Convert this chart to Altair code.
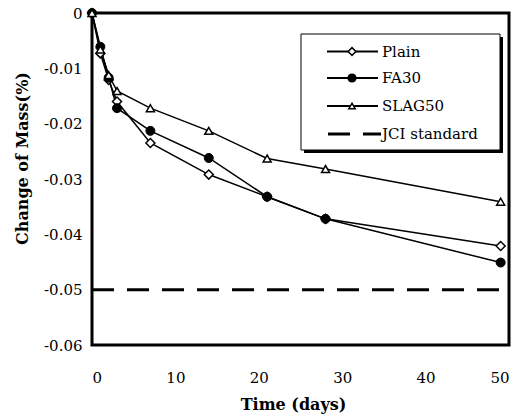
import altair as alt
import pandas as pd

# ---- data ----
days = [0, 1, 2, 3, 7, 14, 21, 28, 49]
plain = [0, -0.0073, -0.0121, -0.0160, -0.0235, -0.0292, -0.0332, -0.0372, -0.0421]
fa30 = [0, -0.0061, -0.0117, -0.0172, -0.0213, -0.0262, -0.0332, -0.0372, -0.0451]
slag50 = [0, -0.0066, -0.0112, -0.0141, -0.0172, -0.0213, -0.0263, -0.0282, -0.0341]
series_names = ["Plain", "FA30", "SLAG50", "JCI standard"]
jci_days = [0, 49]
jci_value = [-0.05, -0.05]
x_ticks = [0, 10, 20, 30, 40, 50]
y_ticks = [0, -0.01, -0.02, -0.03, -0.04, -0.05, -0.06]

rows = []
for name, vals in zip(series_names[:3], [plain, fa30, slag50]):
    for d, v in zip(days, vals):
        rows.append({"day": d, "value": v, "series": name})
df = pd.DataFrame(rows)
jci = pd.DataFrame({"day": jci_days, "value": jci_value, "series": "JCI standard"})
legend_df = pd.DataFrame({"label": series_names})

FONT = "DejaVu Serif"

x_enc = alt.X(
    "day:Q",
    scale=alt.Scale(domain=[0, 50], nice=False),
    axis=alt.Axis(
        values=x_ticks, format="d", title="Time (days)",
        labelPadding=25, titleX=201, titleY=59, titleBaseline="middle",
        titleAnchor="start", titleAlign="center",
    ),
)
y_enc = alt.Y(
    "value:Q",
    scale=alt.Scale(domain=[-0.06, 0], nice=False, zero=False),
    axis=alt.Axis(
        values=y_ticks,
        labelExpr="datum.value == 0 ? '0' : replace(format(datum.value, '.2f'), '\u2212', '-')",
        title="Change of Mass(%)", labelPadding=10,
        titleX=-70, titleY=145, titleBaseline="middle", titleAlign="center",
        titleAngle=-90, titleAnchor="start",
    ),
)

base = alt.Chart(df)

lines = base.mark_line(color="black", strokeWidth=1.5).encode(
    x=x_enc, y=y_enc, detail="series:N"
)

plain_pts = base.transform_filter(alt.datum.series == "Plain").mark_point(
    shape="diamond", size=81, filled=True, fill="white", stroke="black", strokeWidth=1.5, opacity=1
).encode(x="day:Q", y="value:Q")
fa_pts = base.transform_filter(alt.datum.series == "FA30").mark_point(
    shape="circle", size=81, filled=True, fill="black", stroke="black", strokeWidth=1, opacity=1
).encode(x="day:Q", y="value:Q")
slag_pts = base.transform_filter(alt.datum.series == "SLAG50").mark_point(
    shape="triangle-up", size=64, filled=True, fill="white", stroke="black", strokeWidth=1.5, opacity=1
).encode(x="day:Q", y="value:Q")

jci_line = alt.Chart(jci).mark_line(
    color="black", strokeWidth=3, strokeDash=[22, 13]
).encode(x="day:Q", y="value:Q")

# ---- hand-drawn legend box ----
one = alt.Chart(legend_df).transform_filter(alt.datum.label == "Plain")
shadow = one.mark_rect(fill="black").encode(
    x=alt.value(212), x2=alt.value(411), y=alt.value(24), y2=alt.value(140)
)
box = one.mark_rect(fill="white", stroke="black", strokeWidth=1).encode(
    x=alt.value(209), x2=alt.value(408), y=alt.value(21), y2=alt.value(137)
)

legend_layers = [shadow, box]
row_y = [38.5, 65, 93, 121]
shapes = ["diamond", "circle", "triangle-up", None]
fills = ["white", "black", "white", None]
sizes = [60, 60, 40, None]
for name, yy, shp, fl, sz in zip(series_names, row_y, shapes, fills, sizes):
    src = alt.Chart(legend_df).transform_filter(alt.datum.label == name)
    if shp is None:
        legend_layers.append(
            src.mark_rule(color="black", strokeWidth=3, strokeDash=[22, 13]).encode(
                x=alt.value(236), x2=alt.value(289), y=alt.value(yy)
            )
        )
    else:
        legend_layers.append(
            src.mark_rule(color="black", strokeWidth=2).encode(
                x=alt.value(235), x2=alt.value(286), y=alt.value(yy)
            )
        )
        legend_layers.append(
            src.mark_point(shape=shp, size=sz, filled=True, fill=fl, stroke="black",
                           strokeWidth=1.5, opacity=1).encode(
                x=alt.value(260), y=alt.value(yy)
            )
        )
    legend_layers.append(
        src.mark_text(align="left", baseline="middle", font=FONT, fontSize=15, color="black").encode(
            x=alt.value(290), y=alt.value(yy), text="label:N"
        )
    )

chart = alt.layer(
    lines, jci_line, plain_pts, fa_pts, slag_pts, *legend_layers
).properties(
    width=417, height=332,
    autosize=alt.AutoSizeParams(type="none"),
    padding={"left": 92, "top": 13, "right": 19, "bottom": 71},
).configure_view(
    stroke="black", strokeWidth=3
).configure_axis(
    domain=False, ticks=False, grid=False,
    labelFont=FONT, labelFontSize=15, labelColor="black",
    titleFont=FONT, titleFontSize=16, titleFontWeight="bold", titleColor="black",
)

chart.save("out.html", embed_options={"renderer": "svg", "actions": False})
